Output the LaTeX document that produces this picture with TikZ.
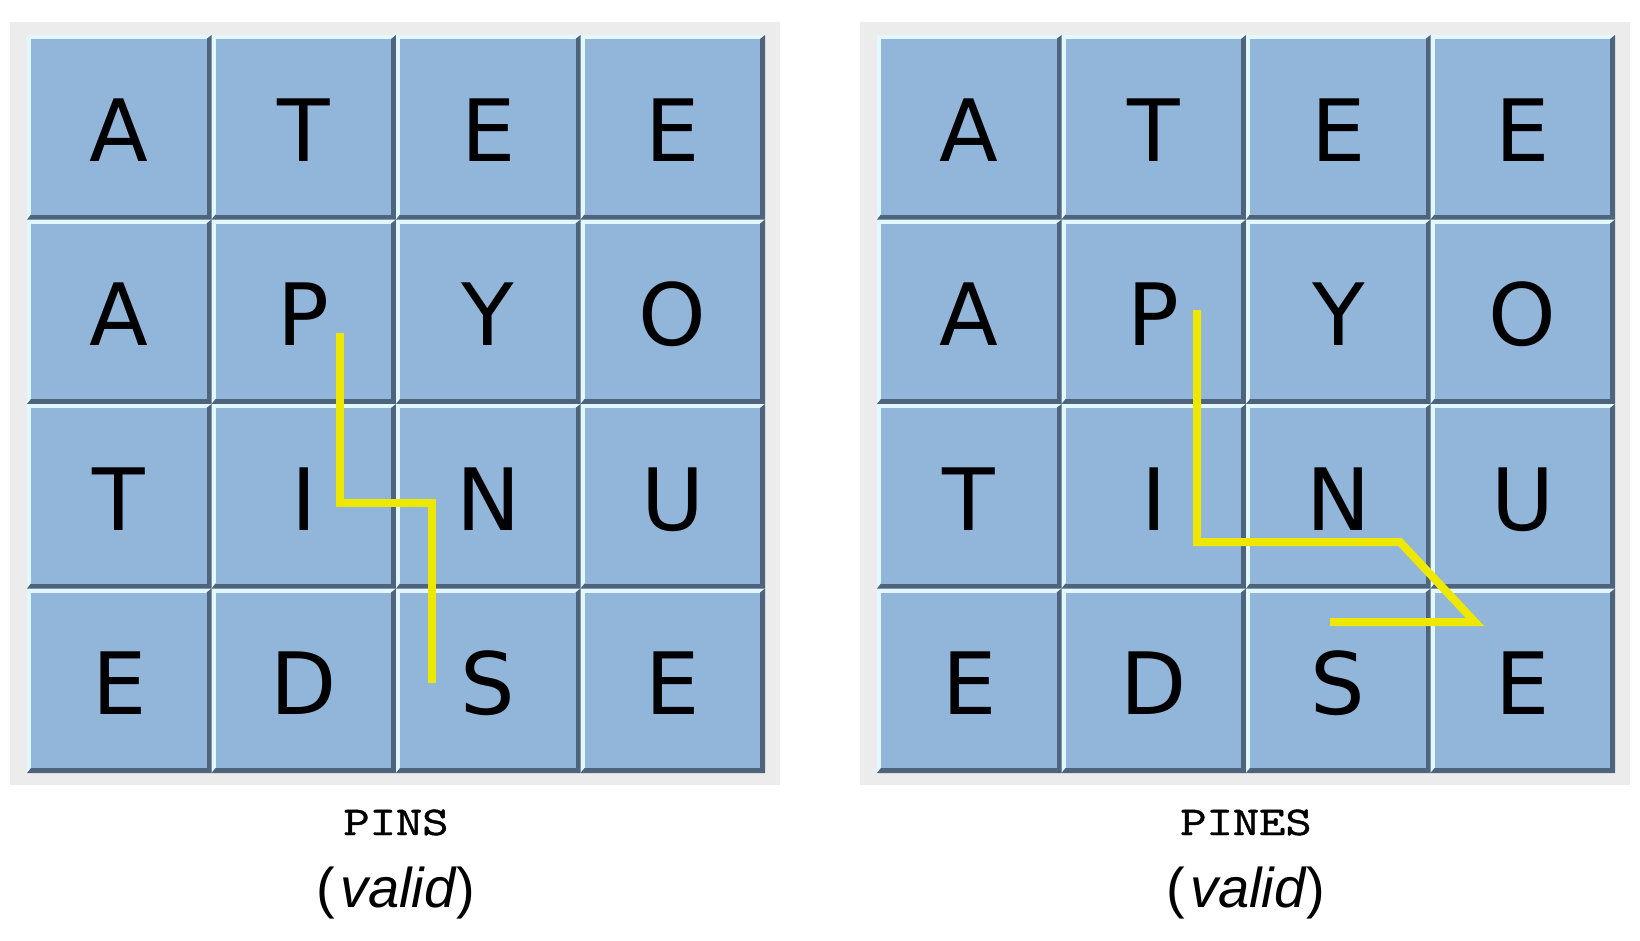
\documentclass[tikz,border=0pt]{standalone}
\usepackage{fontspec}
\setmainfont{Liberation Sans}
\newfontfamily\tilefont{DejaVu Sans}
\newfontfamily\wordfont{lmmono10-regular.otf}[FakeStretch=1.22,FakeBold=1.1]
\definecolor{face}{RGB}{146,181,218}
\definecolor{hlcol}{RGB}{226,248,252}
\definecolor{dkcol}{RGB}{78,99,124}
\definecolor{panelgray}{RGB}{236,236,236}
\definecolor{pathyellow}{RGB}{238,232,0}
\tikzset{
  letter/.style={anchor=base,inner sep=0pt,font=\tilefont\fontsize{86}{86}\selectfont},
  wordlabel/.style={anchor=base,inner sep=0pt,font=\wordfont\fontsize{41}{41}\selectfont},
  validlabel/.style={anchor=base,inner sep=0pt,font=\fontsize{56}{56}\selectfont},
  trail/.style={draw=pathyellow,line width=8pt,line join=miter,line cap=butt},
  panel/.style={fill=panelgray}
}
\newcommand\drawtile[4]{%
  \fill[hlcol] (#2,#3) rectangle (#2+184.5,#3+184.5);
  \fill[dkcol] (#2+184.5,#3) -- (#2+184.5,#3+184.5) -- (#2,#3+184.5) -- (#2+4,#3+179.5) -- (#2+179.5,#3+179.5) -- (#2+179.5,#3+4) -- cycle;
  \fill[face] (#2+4,#3+4) rectangle (#2+179.5,#3+179.5);
  \node[letter] (#1) at (#2+92.25,#3+126) {#4};
}
\begin{document}
\begin{tikzpicture}[x=1pt,y=-1pt]
\useasboundingbox[fill=white] (0,0) rectangle (1640,940);
% panels
\fill[panel] (10,22) rectangle (780,785);
\fill[panel] (860,22) rectangle (1630,785);
% tiles
\foreach \r/\row in {0/{A,T,E,E},1/{A,P,Y,O},2/{T,I,N,U},3/{E,D,S,E}} {
  \foreach \ch [count=\c from 0] in \row {
    \pgfmathsetmacro\xl{27+\c*184.5}
    \pgfmathsetmacro\xr{877+\c*184.5}
    \pgfmathsetmacro\yt{35+\r*184.5}
    \drawtile{L\r\c}{\xl}{\yt}{\ch}
    \drawtile{R\r\c}{\xr}{\yt}{\ch}
  }
}
% left trail: P-I-N-S
\coordinate (a1) at (340,333);
\coordinate (a2) at (340,503);
\coordinate (a3) at (432,503);
\coordinate (a4) at (432,683);
\draw[trail] (a1) -- (a2) -- (a3) -- (a4);
% right trail: P-I-N-E-S
\coordinate (b1) at (1197,310);
\coordinate (b2) at (1197,542);
\coordinate (b3) at (1400,542);
\coordinate (b4) at (1475,622);
\coordinate (b5) at (1330,622);
\draw[trail] (b1) -- (b2) -- (b3) -- (b4) -- (b5);
% labels
\node[wordlabel] (w1) at (396,835) {PINS};
\node[validlabel] (v1) at (396,907) {(\kern5pt\textit{valid})};
\node[wordlabel] (w2) at (1246,835) {PINES};
\node[validlabel] (v2) at (1246,907) {(\kern5pt\textit{valid})};
\end{tikzpicture}
\end{document}
